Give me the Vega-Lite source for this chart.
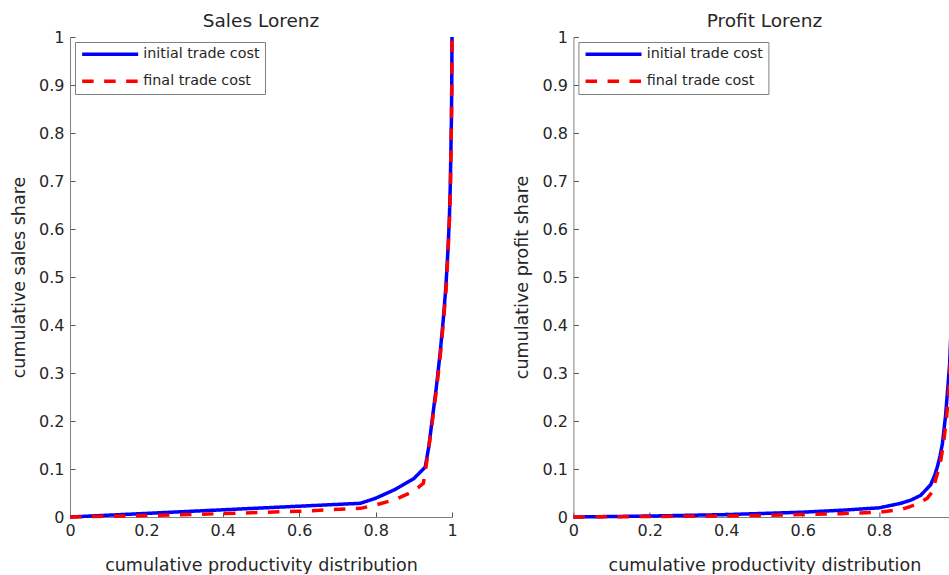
{
  "$schema": "https://vega.github.io/schema/vega-lite/v6.json",
  "background": "white",
  "padding": {"left": 10, "top": 11, "right": 0, "bottom": 0},
  "autosize": {"type": "pad"},
  "datasets": {
    "sales": [
      {"series": "initial trade cost", "x": 0, "y": 0},
      {"series": "initial trade cost", "x": 0.2, "y": 0.0075},
      {"series": "initial trade cost", "x": 0.4, "y": 0.015},
      {"series": "initial trade cost", "x": 0.6, "y": 0.0225},
      {"series": "initial trade cost", "x": 0.76, "y": 0.0285},
      {"series": "initial trade cost", "x": 0.8, "y": 0.039},
      {"series": "initial trade cost", "x": 0.85, "y": 0.057},
      {"series": "initial trade cost", "x": 0.9, "y": 0.08},
      {"series": "initial trade cost", "x": 0.93, "y": 0.104},
      {"series": "initial trade cost", "x": 0.94, "y": 0.15},
      {"series": "initial trade cost", "x": 0.948, "y": 0.202},
      {"series": "initial trade cost", "x": 0.959, "y": 0.27},
      {"series": "initial trade cost", "x": 0.969, "y": 0.342},
      {"series": "initial trade cost", "x": 0.977, "y": 0.41},
      {"series": "initial trade cost", "x": 0.984, "y": 0.48},
      {"series": "initial trade cost", "x": 0.989, "y": 0.55},
      {"series": "initial trade cost", "x": 0.993, "y": 0.619},
      {"series": "initial trade cost", "x": 0.9955, "y": 0.69},
      {"series": "initial trade cost", "x": 0.997, "y": 0.758},
      {"series": "initial trade cost", "x": 0.9985, "y": 0.83},
      {"series": "initial trade cost", "x": 0.9993, "y": 0.896},
      {"series": "initial trade cost", "x": 1, "y": 1},
      {"series": "final trade cost", "x": 0, "y": 0},
      {"series": "final trade cost", "x": 0.2, "y": 0.003},
      {"series": "final trade cost", "x": 0.4, "y": 0.007},
      {"series": "final trade cost", "x": 0.6, "y": 0.012},
      {"series": "final trade cost", "x": 0.76, "y": 0.018},
      {"series": "final trade cost", "x": 0.8, "y": 0.025},
      {"series": "final trade cost", "x": 0.85, "y": 0.036},
      {"series": "final trade cost", "x": 0.9, "y": 0.054},
      {"series": "final trade cost", "x": 0.925, "y": 0.07},
      {"series": "final trade cost", "x": 0.928, "y": 0.085},
      {"series": "final trade cost", "x": 0.932, "y": 0.105},
      {"series": "final trade cost", "x": 0.94, "y": 0.15},
      {"series": "final trade cost", "x": 0.949, "y": 0.202},
      {"series": "final trade cost", "x": 0.96, "y": 0.27},
      {"series": "final trade cost", "x": 0.97, "y": 0.342},
      {"series": "final trade cost", "x": 0.978, "y": 0.41},
      {"series": "final trade cost", "x": 0.985, "y": 0.48},
      {"series": "final trade cost", "x": 0.9895, "y": 0.55},
      {"series": "final trade cost", "x": 0.9933, "y": 0.619},
      {"series": "final trade cost", "x": 0.996, "y": 0.69},
      {"series": "final trade cost", "x": 0.9973, "y": 0.758},
      {"series": "final trade cost", "x": 0.9987, "y": 0.83},
      {"series": "final trade cost", "x": 0.9994, "y": 0.896},
      {"series": "final trade cost", "x": 1, "y": 1}
    ],
    "profit": [
      {"series": "initial trade cost", "x": 0, "y": 0},
      {"series": "initial trade cost", "x": 0.2, "y": 0.002},
      {"series": "initial trade cost", "x": 0.4, "y": 0.005},
      {"series": "initial trade cost", "x": 0.6, "y": 0.01},
      {"series": "initial trade cost", "x": 0.7, "y": 0.014},
      {"series": "initial trade cost", "x": 0.8, "y": 0.019},
      {"series": "initial trade cost", "x": 0.857, "y": 0.0285},
      {"series": "initial trade cost", "x": 0.883, "y": 0.035},
      {"series": "initial trade cost", "x": 0.909, "y": 0.045},
      {"series": "initial trade cost", "x": 0.935, "y": 0.067},
      {"series": "initial trade cost", "x": 0.945, "y": 0.085},
      {"series": "initial trade cost", "x": 0.953, "y": 0.105},
      {"series": "initial trade cost", "x": 0.96, "y": 0.128},
      {"series": "initial trade cost", "x": 0.966, "y": 0.153},
      {"series": "initial trade cost", "x": 0.974, "y": 0.209},
      {"series": "initial trade cost", "x": 0.981, "y": 0.278},
      {"series": "initial trade cost", "x": 0.985, "y": 0.32},
      {"series": "initial trade cost", "x": 0.99, "y": 0.42},
      {"series": "initial trade cost", "x": 0.995, "y": 0.6},
      {"series": "initial trade cost", "x": 0.998, "y": 0.8},
      {"series": "initial trade cost", "x": 1, "y": 1},
      {"series": "final trade cost", "x": 0, "y": 0},
      {"series": "final trade cost", "x": 0.2, "y": 0.001},
      {"series": "final trade cost", "x": 0.4, "y": 0.002},
      {"series": "final trade cost", "x": 0.6, "y": 0.005},
      {"series": "final trade cost", "x": 0.7, "y": 0.007},
      {"series": "final trade cost", "x": 0.8, "y": 0.01},
      {"series": "final trade cost", "x": 0.86, "y": 0.016},
      {"series": "final trade cost", "x": 0.883, "y": 0.022},
      {"series": "final trade cost", "x": 0.9, "y": 0.027},
      {"series": "final trade cost", "x": 0.926, "y": 0.039},
      {"series": "final trade cost", "x": 0.94, "y": 0.053},
      {"series": "final trade cost", "x": 0.948, "y": 0.077},
      {"series": "final trade cost", "x": 0.955, "y": 0.097},
      {"series": "final trade cost", "x": 0.962, "y": 0.119},
      {"series": "final trade cost", "x": 0.97, "y": 0.16},
      {"series": "final trade cost", "x": 0.977, "y": 0.209},
      {"series": "final trade cost", "x": 0.983, "y": 0.265},
      {"series": "final trade cost", "x": 0.988, "y": 0.35},
      {"series": "final trade cost", "x": 0.993, "y": 0.5},
      {"series": "final trade cost", "x": 0.997, "y": 0.7},
      {"series": "final trade cost", "x": 1, "y": 1}
    ]
  },
  "config": {
    "font": "DejaVu Sans",
    "view": {"stroke": null},
    "concat": {"spacing": 54.4},
    "title": {"fontSize": 18.5, "fontWeight": "normal", "color": "#262626", "offset": -1, "font": "DejaVu Sans"},
    "axis": {
      "labelFont": "DejaVu Sans", "titleFont": "DejaVu Sans",
      "labelFontSize": 16, "labelColor": "#262626",
      "titleFontSize": 17.5, "titleFontWeight": "normal", "titleColor": "#262626",
      "domainColor": "#808080", "domainWidth": 1,
      "tickColor": "#555555", "tickSize": -5, "tickWidth": 1,
      "grid": false, "labelFlush": false, "labelOverlap": false
    },
    "axisX": {"labelPadding": 10, "titlePadding": 18},
    "axisY": {"labelPadding": 11, "titlePadding": 10.5},
    "legend": {
      "title": null, "strokeColor": "#808080", "fillColor": "white", "padding": 5,
      "symbolType": "M-5.6,0H5.6", "symbolSize": 100, "symbolStrokeWidth": 3.5, "symbolOffset": 23,
      "labelFont": "DejaVu Sans", "labelFontSize": 14.3, "labelColor": "#262626",
      "labelOffset": 26, "rowPadding": 12, "cornerRadius": 0, "offset": 5
    }
  },
  "resolve": {
    "scale": {"color": "independent", "strokeDash": "independent"},
    "legend": {"color": "independent", "strokeDash": "independent"}
  },
  "hconcat": [
    {
      "width": 382, "height": 480,
      "title": {"text": "Sales Lorenz"},
      "data": {"name": "sales"},
      "encoding": {
        "x": {"field": "x", "type": "quantitative", "scale": {"domain": [0, 1], "nice": false, "zero": false},
              "axis": {"values": [0, 0.2, 0.4, 0.6, 0.8, 1], "format": "~g", "title": "cumulative productivity distribution"}},
        "y": {"field": "y", "type": "quantitative", "scale": {"domain": [0, 1], "nice": false},
              "axis": {"values": [0, 0.1, 0.2, 0.3, 0.4, 0.5, 0.6, 0.7, 0.8, 0.9, 1], "format": "~g", "title": "cumulative sales share"}},
        "color": {"field": "series", "type": "nominal",
                  "scale": {"domain": ["initial trade cost", "final trade cost"], "range": ["#0000ff", "#ff0000"]},
                  "legend": {"orient": "top-left"}},
        "strokeDash": {"field": "series", "type": "nominal",
                  "scale": {"domain": ["initial trade cost", "final trade cost"], "range": [[1, 0], [11.5, 10.5]]},
                  "legend": {"orient": "top-left"}}
      },
      "layer": [
        {"transform": [{"filter": "datum.series == 'initial trade cost'"}], "mark": {"type": "line", "strokeWidth": 3.5}},
        {"transform": [{"filter": "datum.series == 'final trade cost'"}], "mark": {"type": "line", "strokeWidth": 3.5}}
      ]
    },
    {
      "width": 382, "height": 480,
      "title": {"text": "Profit Lorenz"},
      "data": {"name": "profit"},
      "encoding": {
        "x": {"field": "x", "type": "quantitative", "scale": {"domain": [0, 1], "nice": false, "zero": false},
              "axis": {"values": [0, 0.2, 0.4, 0.6, 0.8], "format": "~g", "title": "cumulative productivity distribution"}},
        "y": {"field": "y", "type": "quantitative", "scale": {"domain": [0, 1], "nice": false},
              "axis": {"values": [0, 0.1, 0.2, 0.3, 0.4, 0.5, 0.6, 0.7, 0.8, 0.9, 1], "format": "~g", "title": "cumulative profit share"}},
        "color": {"field": "series", "type": "nominal",
                  "scale": {"domain": ["initial trade cost", "final trade cost"], "range": ["#0000ff", "#ff0000"]},
                  "legend": {"orient": "top-left"}},
        "strokeDash": {"field": "series", "type": "nominal",
                  "scale": {"domain": ["initial trade cost", "final trade cost"], "range": [[1, 0], [11.5, 10.5]]},
                  "legend": {"orient": "top-left"}}
      },
      "layer": [
        {"transform": [{"filter": "datum.series == 'initial trade cost'"}], "mark": {"type": "line", "strokeWidth": 3.5}},
        {"transform": [{"filter": "datum.series == 'final trade cost'"}], "mark": {"type": "line", "strokeWidth": 3.5}}
      ]
    }
  ]
}
